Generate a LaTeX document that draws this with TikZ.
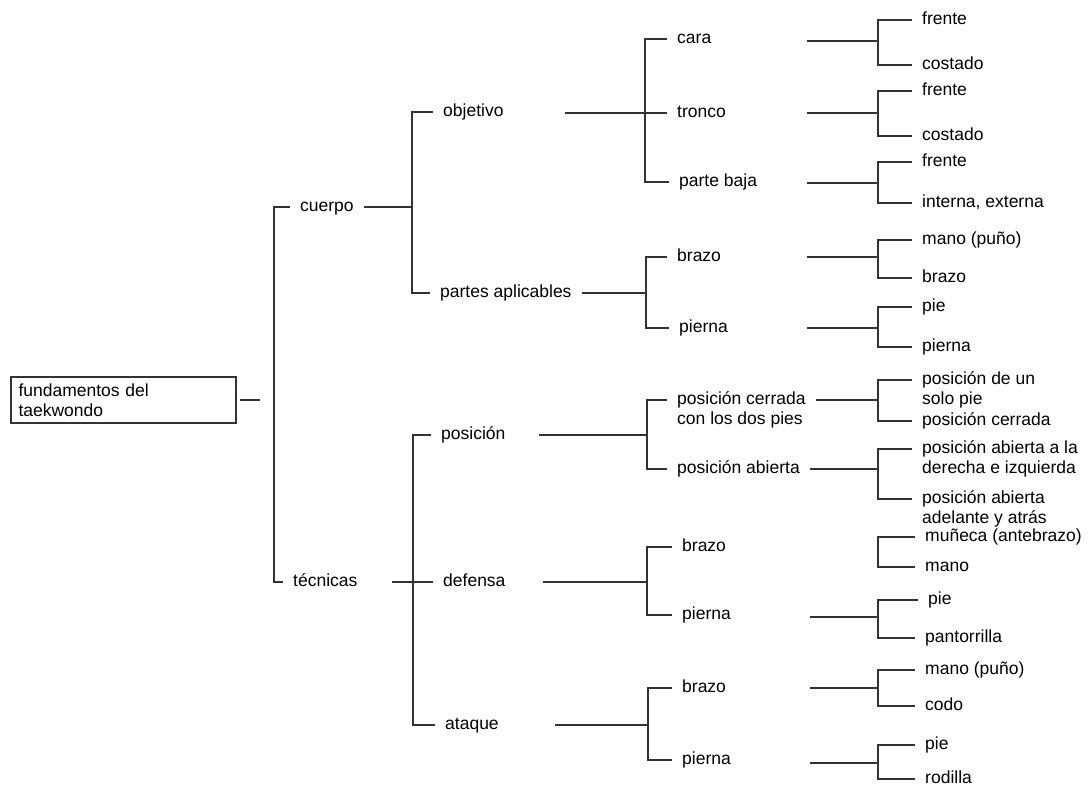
\documentclass[tikz,border=0pt]{standalone}
\usepackage{fontspec}
\setmainfont{Liberation Sans}

\newcommand{\twolines}[2]{\begin{tabular}[t]{@{}l@{}}#1\\#2\end{tabular}}

\begin{document}
\begin{tikzpicture}[x=1pt, y=-1pt,
  lbl/.style={anchor=west, inner xsep=10pt, inner ysep=0pt, text height=9pt, text depth=0pt, font=\fontsize{17.5}{20}\selectfont},
  ln/.style={line width=1.4pt, black!80},
  rootbox/.style={draw, rectangle, line width=1.2pt, draw=black!80, minimum width=225pt, minimum height=46pt, text width=210pt, inner xsep=7pt, align=left, font=\fontsize{17.5}{20}\selectfont}]
  \useasboundingbox (0,0) rectangle (1089,789);

  % root and first level
  \node[rootbox] (root) at (123.5,400) {fundamentos del\\taekwondo};
  \node[lbl] (cuerpo) at (290,207) {cuerpo};
  \node[lbl] (tecnicas) at (283,582) {técnicas};

  % second level
  \node[lbl] (objetivo) at (433,112) {objetivo};
  \node[lbl] (partes) at (430,293) {partes aplicables};
  \node[lbl] (posicion) at (431,435) {posición};
  \node[lbl] (defensa) at (433,582) {defensa};
  \node[lbl] (ataque) at (435,725) {ataque};

  % third level
  \node[lbl] (cara) at (667,39) {cara};
  \node[lbl] (tronco) at (667,113) {tronco};
  \node[lbl] (baja) at (669,182) {parte baja};
  \node[lbl] (pbrazo) at (667,257) {brazo};
  \node[lbl] (ppierna) at (669,328) {pierna};
  \node[lbl] (cerrada) at (667,400) {\twolines{posición cerrada}{con los dos pies}};
  \node[lbl] (abierta) at (667,469) {posición abierta};
  \node[lbl] (dbrazo) at (672,547) {brazo};
  \node[lbl] (dpierna) at (672,615) {pierna};
  \node[lbl] (abrazo) at (672,688) {brazo};
  \node[lbl] (apierna) at (672,760) {pierna};

  % fourth level
  \node[lbl] (cfrente) at (912,20) {frente};
  \node[lbl] (ccostado) at (912,65) {costado};
  \node[lbl] (tfrente) at (912,91) {frente};
  \node[lbl] (tcostado) at (912,136) {costado};
  \node[lbl] (bfrente) at (912,162) {frente};
  \node[lbl] (binterna) at (912,203) {interna, externa};
  \node[lbl] (pbmano) at (912,240) {mano (puño)};
  \node[lbl] (pbbrazo) at (912,278) {brazo};
  \node[lbl] (pppie) at (912,307) {pie};
  \node[lbl] (pppierna) at (912,347) {pierna};
  \node[lbl] (cun) at (912,380) {\twolines{posición de un}{solo pie}};
  \node[lbl] (ccerrada) at (912,421) {posición cerrada};
  \node[lbl] (alados) at (912,449) {\twolines{posición abierta a la}{derecha e izquierda}};
  \node[lbl] (aadel) at (912,499) {\twolines{posición abierta}{adelante y atrás}};
  \node[lbl] (dbmun) at (915,537) {muñeca (antebrazo)};
  \node[lbl] (dbmano) at (915,567) {mano};
  \node[lbl] (dppie) at (918,600) {pie};
  \node[lbl] (dppant) at (915,638) {pantorrilla};
  \node[lbl] (abmano) at (915,670) {mano (puño)};
  \node[lbl] (abcodo) at (915,706) {codo};
  \node[lbl] (appie) at (915,745) {pie};
  \node[lbl] (aprod) at (915,779) {rodilla};

  % junctions and loose line ends
  \coordinate (rootend) at (260,400);
  \coordinate (j0) at (274,400);
  \coordinate (j1) at (412,207);
  \coordinate (s2) at (392,582);
  \coordinate (j2) at (413,582);
  \coordinate (s3) at (565,113);
  \coordinate (j3) at (645,113);
  \coordinate (j4) at (646,293);
  \coordinate (s5) at (539,435);
  \coordinate (j5) at (647,435);
  \coordinate (s6) at (543,582);
  \coordinate (j6) at (647,582);
  \coordinate (s7) at (555,725);
  \coordinate (j7) at (648,725);
  \coordinate (s8) at (807,41);
  \coordinate (j8) at (878,41);
  \coordinate (s9) at (807,113);
  \coordinate (j9) at (878,113);
  \coordinate (s10) at (807,183);
  \coordinate (j10) at (878,183);
  \coordinate (s11) at (807,257);
  \coordinate (j11) at (878,257);
  \coordinate (s12) at (807,328);
  \coordinate (j12) at (878,328);
  \coordinate (j13) at (878,400);
  \coordinate (j14) at (878,469);
  \coordinate (j15) at (878,551);
  \coordinate (s16) at (810,617);
  \coordinate (j16) at (878,617);
  \coordinate (s17) at (810,688);
  \coordinate (j17) at (878,688);
  \coordinate (s18) at (810,763);
  \coordinate (j18) at (878,763);

  % brackets
  \draw[ln] (root.east) ++(3,0) -- (rootend);
  \draw[ln] (cuerpo.west) -| (j0) |- (tecnicas.west);

  \draw[ln] (cuerpo.east) -- (j1);
  \draw[ln] (objetivo.west) -| (j1) |- (partes.west);
  \draw[ln] (s2) -- (defensa.west);
  \draw[ln] (posicion.west) -| (j2) |- (ataque.west);

  \draw[ln] (s3) -- (tronco.west);
  \draw[ln] (cara.west) -| (j3) |- (baja.west);
  \draw[ln] (partes.east) -- (j4);
  \draw[ln] (pbrazo.west) -| (j4) |- (ppierna.west);
  \draw[ln] (s5) -- (j5);
  \draw[ln] (cerrada.west) -| (j5) |- (abierta.west);
  \draw[ln] (s6) -- (j6);
  \draw[ln] (dbrazo.west) -| (j6) |- (dpierna.west);
  \draw[ln] (s7) -- (j7);
  \draw[ln] (abrazo.west) -| (j7) |- (apierna.west);

  \draw[ln] (s8) -- (j8);
  \draw[ln] (cfrente.west) -| (j8) |- (ccostado.west);
  \draw[ln] (s9) -- (j9);
  \draw[ln] (tfrente.west) -| (j9) |- (tcostado.west);
  \draw[ln] (s10) -- (j10);
  \draw[ln] (bfrente.west) -| (j10) |- (binterna.west);
  \draw[ln] (s11) -- (j11);
  \draw[ln] (pbmano.west) -| (j11) |- (pbbrazo.west);
  \draw[ln] (s12) -- (j12);
  \draw[ln] (pppie.west) -| (j12) |- (pppierna.west);
  \draw[ln] (cerrada.east) -- (j13);
  \draw[ln] (cun.west) -| (j13) |- (ccerrada.west);
  \draw[ln] (abierta.east) -- (j14);
  \draw[ln] (alados.west) -| (j14) |- (aadel.west);
  \draw[ln] (dbmun.west) -| (j15) |- (dbmano.west);
  \draw[ln] (s16) -- (j16);
  \draw[ln] (dppie.west) -| (j16) |- (dppant.west);
  \draw[ln] (s17) -- (j17);
  \draw[ln] (abmano.west) -| (j17) |- (abcodo.west);
  \draw[ln] (s18) -- (j18);
  \draw[ln] (appie.west) -| (j18) |- (aprod.west);
\end{tikzpicture}
\end{document}
